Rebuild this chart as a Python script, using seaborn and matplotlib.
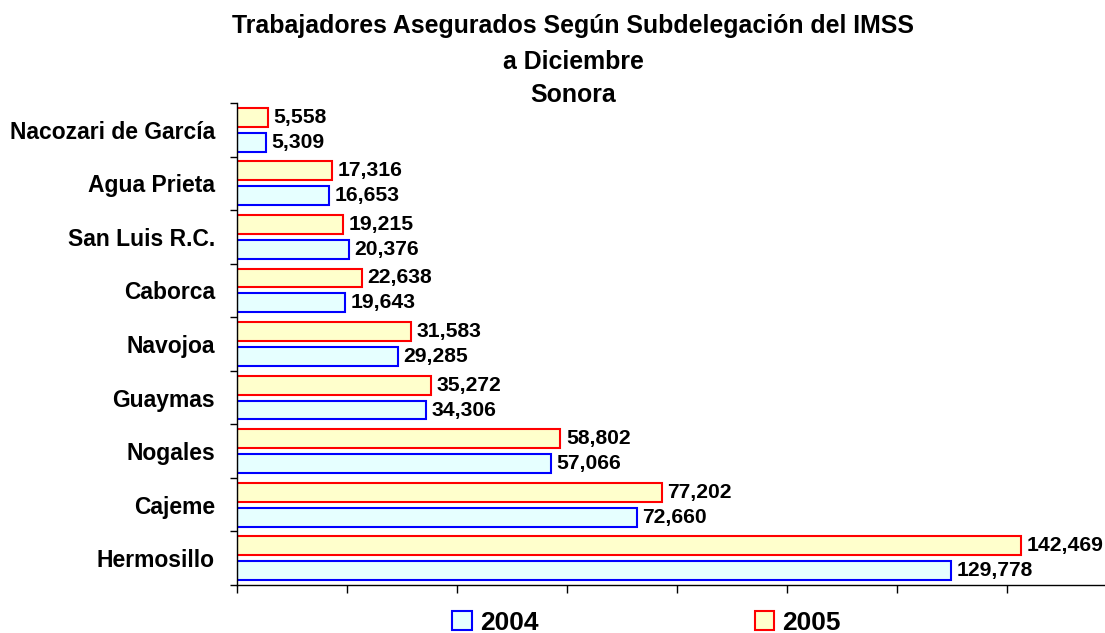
import pandas as pd
import seaborn as sns
import matplotlib.pyplot as plt
from matplotlib.patches import Patch

# -------------------------------------------------
# DATA
# -------------------------------------------------

subdelegaciones = ["Nacozari de García", "Agua Prieta", "San Luis R.C.", "Caborca",
                   "Navojoa", "Guaymas", "Nogales", "Cajeme", "Hermosillo"]
valores_2004 = [5309, 16653, 20376, 19643, 29285, 34306, 57066, 72660, 129778]
valores_2005 = [5558, 17316, 19215, 22638, 31583, 35272, 58802, 77202, 142469]
anios = ["2005", "2004"]

titulo = ["Trabajadores Asegurados Según Subdelegación del IMSS", "a Diciembre", "Sonora"]

relleno = {"2004": "#E6FFFF", "2005": "#FFFFCC"}
borde = {"2004": "#0000FF", "2005": "#FF0000"}

df = pd.DataFrame({
    "subdelegacion": subdelegaciones * 2,
    "valor": valores_2005 + valores_2004,
    "anio": ["2005"] * len(subdelegaciones) + ["2004"] * len(subdelegaciones),
})

# -------------------------------------------------
# PLOT
# -------------------------------------------------

sns.set_theme(style="white")
plt.rcParams["font.family"] = ["Liberation Sans", "DejaVu Sans"]
plt.rcParams["font.weight"] = "bold"
plt.rcParams["text.color"] = "black"
plt.rcParams["xtick.color"] = "black"
plt.rcParams["ytick.color"] = "black"

fig = plt.figure(figsize=(11.05, 6.33), dpi=100)
ax = fig.add_axes([237 / 1105, 1 - 585 / 633, 880 / 1105, 482 / 633])

sns.barplot(
    data=df, y="subdelegacion", x="valor", hue="anio",
    hue_order=anios, order=subdelegaciones, orient="h",
    palette=relleno, saturation=1, width=0.93, gap=0.24,
    linewidth=1.5, ax=ax, legend=False
)

for cont, anio in zip(ax.containers, anios):
    for bar in cont:
        bar.set_edgecolor(borde[anio])
        bar.set_linewidth(1.5)
    ax.bar_label(cont, labels=[f"{v.get_width():,.0f}" for v in cont],
                 padding=4, fontsize=15.2, fontweight="bold", color="black")

ax.set_xlim(0, 160000)
ax.set_xticks(range(0, 160001, 20000))
ax.set_xticklabels([])
ax.set_ylim(len(subdelegaciones) - 0.5, -0.5)
ax.set_yticks([i - 0.5 for i in range(len(subdelegaciones) + 1)], minor=True)
ax.tick_params(axis="y", which="major", length=0, pad=16, labelsize=16.5, labelcolor="black")
ax.tick_params(axis="y", which="minor", left=True, length=5, width=1, color="black", direction="out")
ax.tick_params(axis="x", which="major", bottom=True, length=6, width=1, color="black", direction="out")
for lbl in ax.get_yticklabels():
    lbl.set_fontweight("bold")
ax.set_xlabel("")
ax.set_ylabel("")

sns.despine(ax=ax, top=True, right=True)
for s in ["left", "bottom"]:
    ax.spines[s].set_color("black")
    ax.spines[s].set_linewidth(1)

for linea, yb in zip(titulo, [33, 69, 102]):
    fig.text(0.519, 1 - yb / 633, linea, ha="center", va="baseline", fontsize=17.9,
             fontweight="bold", color="black")

handles = [Patch(facecolor=relleno[a], edgecolor=borde[a], linewidth=1.5) for a in ["2004", "2005"]]
fig.legend(handles, ["2004", "2005"], loc="center", bbox_to_anchor=(0.585, 0.016),
           ncol=2, frameon=False, handlelength=0.75, handleheight=0.75,
           handletextpad=0.3, columnspacing=8.2, borderpad=0, prop={"weight": "bold", "size": 19})

fig.savefig("out.png", dpi=100)
